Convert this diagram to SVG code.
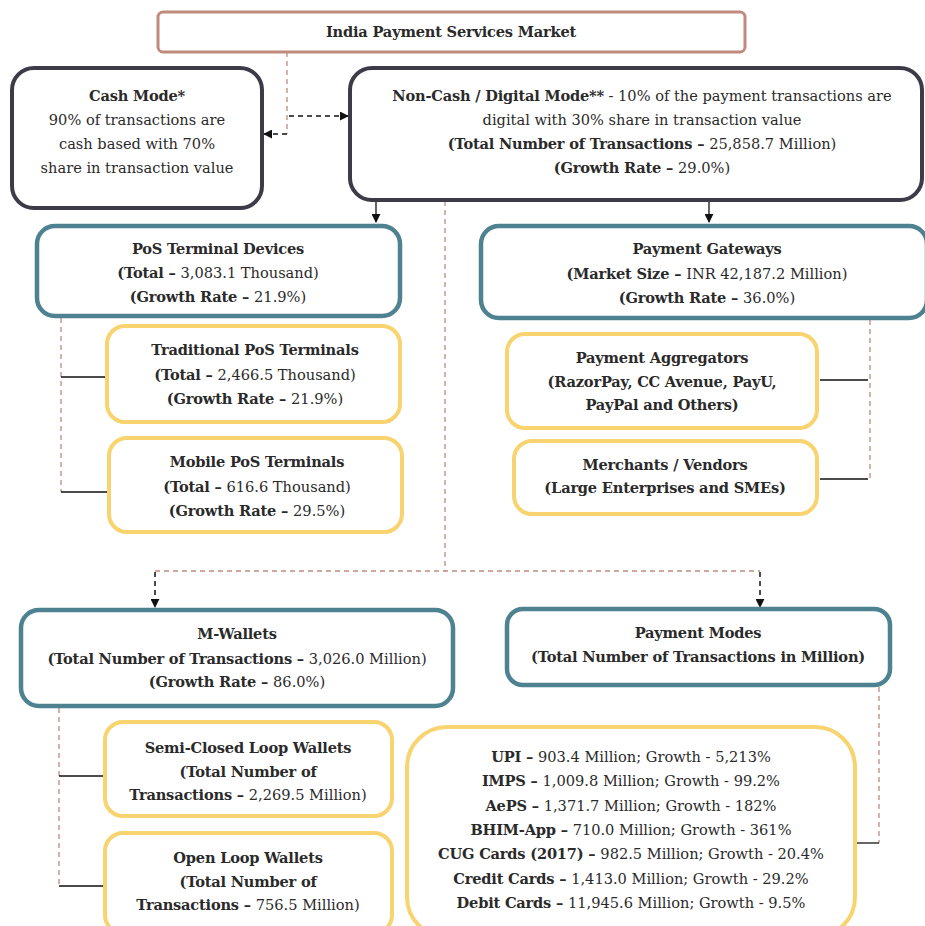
<svg xmlns="http://www.w3.org/2000/svg" width="925" height="926" viewBox="0 0 925 926">
<defs>
<marker id="ah" viewBox="0 0 10 10" refX="9" refY="5" markerWidth="9" markerHeight="9" markerUnits="userSpaceOnUse" orient="auto"><path d="M0,0 L10,5 L0,10 Z" fill="#111"/></marker>
<style>
.t{font-family:"DejaVu Serif","Liberation Serif",serif;font-size:14.6px;fill:#2a2a2a;text-anchor:middle}
.b{font-weight:bold;letter-spacing:-0.2px}
.top{fill:#fff;stroke:#C08A7C;stroke-width:3}
.dark{fill:#fff;stroke:#3C3B47;stroke-width:4}
.teal{fill:#fff;stroke:#4F8290;stroke-width:4.5}
.yel{fill:#fff;stroke:#F7D470;stroke-width:4}
.bd{fill:none;stroke:#C08A7C;stroke-width:1.3;stroke-dasharray:5,4}
.kd{fill:none;stroke:#111;stroke-width:1.5;stroke-dasharray:5,4}
.k{fill:none;stroke:#111;stroke-width:1.3}
</style>
</defs>
<rect width="925" height="926" fill="#fff"/>
<g id="connectors">
<path class="bd" d="M287,52 V134"/>
<path class="kd" d="M289,116 H348" marker-end="url(#ah)"/>
<path class="kd" d="M287,134 H264" marker-end="url(#ah)"/>
<path class="k" d="M376,201 V222" marker-end="url(#ah)"/>
<path class="k" d="M709,201 V222" marker-end="url(#ah)"/>
<path class="bd" d="M445,201 V571 M155,571 H760"/>
<path class="kd" d="M155,572 V607" marker-end="url(#ah)"/>
<path class="kd" d="M760,572 V607" marker-end="url(#ah)"/>
<path class="bd" d="M61,318 V492"/>
<path class="k" d="M61,377 H107 M61,492 H108"/>
<path class="bd" d="M870,320 V479"/>
<path class="k" d="M820,380 H868 M820,479 H868"/>
<path class="bd" d="M59,708 V886"/>
<path class="k" d="M59,776 H104 M59,886 H104"/>
<path class="bd" d="M879,687 V843"/>
<path class="k" d="M856,843 H879"/>
</g>
<g id="n_market">
<rect class="top" x="158" y="12" width="587" height="40" rx="5"/>
<text class="t b" x="451" y="37">India Payment Services Market</text>
</g>
<g id="n_cash">
<rect class="dark" x="12" y="68" width="250" height="140" rx="22"/>
<text class="t" x="137" y="101"><tspan class="b">Cash Mode*</tspan><tspan x="137" dy="24">90% of transactions are</tspan><tspan x="137" dy="24">cash based with 70%</tspan><tspan x="137" dy="24">share in transaction value</tspan></text>
</g>
<g id="n_noncash">
<rect class="dark" x="350" y="68" width="572" height="132" rx="22"/>
<text class="t" x="642" y="101"><tspan class="b">Non-Cash / Digital Mode**</tspan> - 10% of the payment transactions are<tspan x="642" dy="24">digital with 30% share in transaction value</tspan><tspan x="642" dy="24" class="b">(Total Number of Transactions – </tspan><tspan>25,858.7 Million)</tspan><tspan x="642" dy="24" class="b">(Growth Rate – </tspan><tspan>29.0%)</tspan></text>
</g>
<g id="n_pos">
<rect class="teal" x="37" y="226" width="363" height="90" rx="18"/>
<text class="t" x="218" y="254"><tspan class="b">PoS Terminal Devices</tspan><tspan x="218" dy="24" class="b">(Total – </tspan><tspan>3,083.1 Thousand)</tspan><tspan x="218" dy="24" class="b">(Growth Rate – </tspan><tspan>21.9%)</tspan></text>
</g>
<g id="n_tradpos">
<rect class="yel" x="107" y="326" width="293" height="96" rx="18"/>
<text class="t" x="255" y="355"><tspan class="b">Traditional PoS Terminals</tspan><tspan x="255" dy="24.5" class="b">(Total – </tspan><tspan>2,466.5 Thousand)</tspan><tspan x="255" dy="24.5" class="b">(Growth Rate – </tspan><tspan>21.9%)</tspan></text>
</g>
<g id="n_mobpos">
<rect class="yel" x="109" y="438" width="293" height="94" rx="18"/>
<text class="t" x="257" y="467"><tspan class="b">Mobile PoS Terminals</tspan><tspan x="257" dy="24.5" class="b">(Total – </tspan><tspan>616.6 Thousand)</tspan><tspan x="257" dy="24.5" class="b">(Growth Rate – </tspan><tspan>29.5%)</tspan></text>
</g>
<g id="n_pg">
<rect class="teal" x="481" y="226" width="446" height="92" rx="18"/>
<text class="t" x="707" y="254"><tspan class="b">Payment Gateways</tspan><tspan x="707" dy="24.5" class="b">(Market Size – </tspan><tspan>INR 42,187.2 Million)</tspan><tspan x="707" dy="24.5" class="b">(Growth Rate – </tspan><tspan>36.0%)</tspan></text>
</g>
<g id="n_pa">
<rect class="yel" x="507" y="334" width="310" height="94" rx="18"/>
<text class="t b" x="662" y="363"><tspan>Payment Aggregators</tspan><tspan x="662" dy="23.5">(RazorPay, CC Avenue, PayU,</tspan><tspan x="662" dy="23.5">PayPal and Others)</tspan></text>
</g>
<g id="n_merch">
<rect class="yel" x="514" y="441" width="303" height="73" rx="18"/>
<text class="t b" x="665" y="470"><tspan>Merchants / Vendors</tspan><tspan x="665" dy="23">(Large Enterprises and SMEs)</tspan></text>
</g>
<g id="n_mwallet">
<rect class="teal" x="21" y="610" width="432" height="96" rx="18"/>
<text class="t" x="237" y="639"><tspan class="b">M-Wallets</tspan><tspan x="237" dy="24.5" class="b">(Total Number of Transactions – </tspan><tspan>3,026.0 Million)</tspan><tspan x="237" dy="23.5" class="b">(Growth Rate – </tspan><tspan>86.0%)</tspan></text>
</g>
<g id="n_pmodes">
<rect class="teal" x="507" y="609" width="383" height="76" rx="16"/>
<text class="t b" x="698" y="638"><tspan>Payment Modes</tspan><tspan x="698" dy="24">(Total Number of Transactions in Million)</tspan></text>
</g>
<g id="n_semi">
<rect class="yel" x="105" y="722" width="287" height="94" rx="18"/>
<text class="t" x="248" y="753"><tspan class="b">Semi-Closed Loop Wallets</tspan><tspan x="248" dy="23.5" class="b">(Total Number of</tspan><tspan x="248" dy="23.5" class="b">Transactions – </tspan><tspan>2,269.5 Million)</tspan></text>
</g>
<g id="n_open">
<rect class="yel" x="105" y="833" width="287" height="100" rx="18"/>
<text class="t" x="248" y="863"><tspan class="b">Open Loop Wallets</tspan><tspan x="248" dy="23.5" class="b">(Total Number of</tspan><tspan x="248" dy="23.5" class="b">Transactions – </tspan><tspan>756.5 Million)</tspan></text>
</g>
<g id="n_list">
<rect class="yel" x="407" y="727" width="448" height="210" rx="40"/>
<text class="t" x="631" y="762"><tspan class="b">UPI – </tspan><tspan>903.4 Million; Growth - 5,213%</tspan><tspan x="631" dy="24.3" class="b">IMPS – </tspan><tspan>1,009.8 Million; Growth - 99.2%</tspan><tspan x="631" dy="24.3" class="b">AePS – </tspan><tspan>1,371.7 Million; Growth - 182%</tspan><tspan x="631" dy="24.3" class="b">BHIM-App – </tspan><tspan>710.0 Million; Growth - 361%</tspan><tspan x="631" dy="24.3" class="b">CUG Cards (2017) – </tspan><tspan>982.5 Million; Growth - 20.4%</tspan><tspan x="631" dy="24.3" class="b">Credit Cards – </tspan><tspan>1,413.0 Million; Growth - 29.2%</tspan><tspan x="631" dy="24.3" class="b">Debit Cards – </tspan><tspan>11,945.6 Million; Growth - 9.5%</tspan></text>
</g>
</svg>
